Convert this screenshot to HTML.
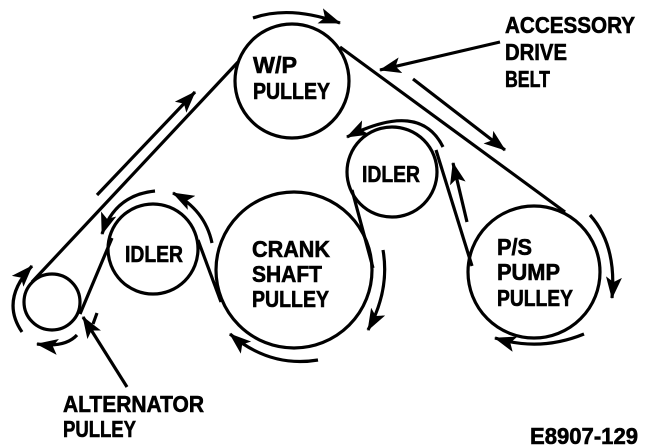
<!DOCTYPE html>
<html><head><meta charset="utf-8"><style>
html,body{margin:0;padding:0;background:#fff;width:656px;height:448px;overflow:hidden}
svg{position:absolute;left:0;top:0}
text{font-family:"Liberation Sans",sans-serif;font-weight:bold;fill:#000;stroke:#000;stroke-width:0.6}
</style></head><body>
<svg width="656" height="448" viewBox="0 0 656 448">
<defs>
<marker id="a" markerUnits="userSpaceOnUse" markerWidth="22" markerHeight="16" refX="21" refY="8" orient="auto" viewBox="0 0 22 16">
<path d="M0,0 L22,8 L0,16 L5,8 z" fill="#000"/>
</marker>
</defs>
<g fill="none" stroke="#000" stroke-width="3.2">
<circle cx="292" cy="81" r="57"/>
<circle cx="392" cy="172" r="45"/>
<circle cx="294" cy="270" r="78"/>
<circle cx="153" cy="249" r="45"/>
<circle cx="52" cy="302" r="28"/>
<circle cx="534" cy="272" r="66"/>
<line x1="32" y1="282" x2="238" y2="62"/>
<line x1="340" y1="47" x2="565" y2="212"/>
<line x1="472" y1="266" x2="436" y2="150"/>
<line x1="352" y1="190" x2="373" y2="268"/>
<line x1="221" y1="302" x2="198" y2="240"/>
<line x1="112" y1="238" x2="80" y2="314"/>
<path d="M253,18 Q290,5 340,23" marker-end="url(#a)"/>
<line x1="97" y1="195" x2="195" y2="92" marker-end="url(#a)"/>
<line x1="413" y1="79" x2="505" y2="150" marker-end="url(#a)"/>
<line x1="500" y1="42" x2="380" y2="70" marker-end="url(#a)"/>
<path d="M443,147 Q420,100 347,137" marker-end="url(#a)"/>
<line x1="467" y1="222" x2="453" y2="163" marker-end="url(#a)"/>
<path d="M590,215 Q617,245 612,298" marker-end="url(#a)"/>
<path d="M584,334 Q540,352 495,338" marker-end="url(#a)"/>
<path d="M383,250 Q390,290 368,330" marker-end="url(#a)"/>
<path d="M318,360 Q270,368 230,334" marker-end="url(#a)"/>
<path d="M212,243 Q205,210 173,193" marker-end="url(#a)"/>
<path d="M155,191 Q115,195 102,234" marker-end="url(#a)"/>
<path d="M22,332 Q0,300 32,266" marker-end="url(#a)"/>
<path d="M77,335 Q65,348 37,344" marker-end="url(#a)"/>
<line x1="127" y1="387" x2="83" y2="317" marker-end="url(#a)"/>
<line x1="97" y1="313" x2="93" y2="324"/>
</g>
<g font-size="23">
<text x="253" y="73" textLength="44" lengthAdjust="spacingAndGlyphs">W/P</text>
<text x="253" y="99" textLength="77" lengthAdjust="spacingAndGlyphs">PULLEY</text>
<text x="505" y="33" textLength="130" lengthAdjust="spacingAndGlyphs">ACCESSORY</text>
<text x="505" y="60" textLength="62" lengthAdjust="spacingAndGlyphs">DRIVE</text>
<text x="505" y="87" textLength="45" lengthAdjust="spacingAndGlyphs">BELT</text>
<text x="362" y="182" textLength="58" lengthAdjust="spacingAndGlyphs">IDLER</text>
<text x="125" y="262" textLength="58" lengthAdjust="spacingAndGlyphs">IDLER</text>
<text x="252" y="257" textLength="78" lengthAdjust="spacingAndGlyphs">CRANK</text>
<text x="252" y="282" textLength="70" lengthAdjust="spacingAndGlyphs">SHAFT</text>
<text x="252" y="307" textLength="77" lengthAdjust="spacingAndGlyphs">PULLEY</text>
<text x="497" y="255" textLength="35" lengthAdjust="spacingAndGlyphs">P/S</text>
<text x="497" y="280" textLength="63" lengthAdjust="spacingAndGlyphs">PUMP</text>
<text x="497" y="306" textLength="76" lengthAdjust="spacingAndGlyphs">PULLEY</text>
<text x="63" y="412" textLength="141" lengthAdjust="spacingAndGlyphs">ALTERNATOR</text>
<text x="63" y="437" textLength="73" lengthAdjust="spacingAndGlyphs">PULLEY</text>
<text x="530" y="444" textLength="108" lengthAdjust="spacingAndGlyphs">E8907-129</text>
</g>
</svg>
</body></html>
